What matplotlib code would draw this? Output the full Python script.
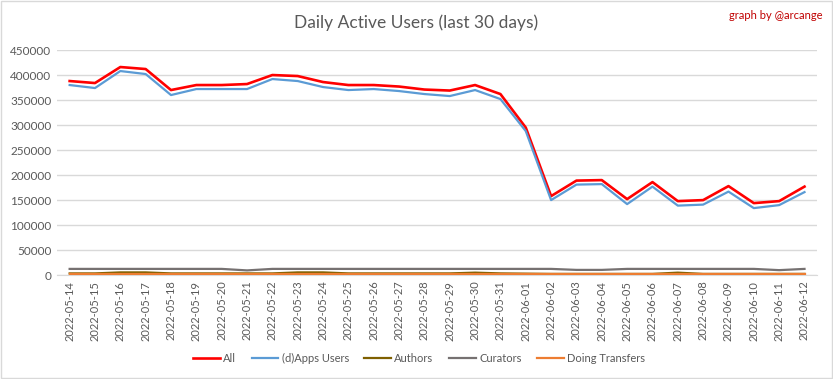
import matplotlib
matplotlib.use("Agg")
import matplotlib.pyplot as plt
from matplotlib.patches import Rectangle

dates = ["2022-05-14", "2022-05-15", "2022-05-16", "2022-05-17", "2022-05-18", "2022-05-19",
         "2022-05-20", "2022-05-21", "2022-05-22", "2022-05-23", "2022-05-24", "2022-05-25",
         "2022-05-26", "2022-05-27", "2022-05-28", "2022-05-29", "2022-05-30", "2022-05-31",
         "2022-06-01", "2022-06-02", "2022-06-03", "2022-06-04", "2022-06-05", "2022-06-06",
         "2022-06-07", "2022-06-08", "2022-06-09", "2022-06-10", "2022-06-11", "2022-06-12"]

all_users = [388000, 384000, 416000, 412000, 370000, 380000, 380000, 382000, 400000, 398000,
             386000, 380000, 380000, 377000, 371000, 369000, 380000, 362000, 295000, 158000,
             189000, 190000, 152000, 186000, 148000, 150000, 178000, 144000, 148000, 177000]
apps_users = [380000, 374000, 408000, 402000, 360000, 372000, 372000, 372000, 392000, 388000,
              376000, 370000, 372000, 368000, 362000, 358000, 370000, 352000, 288000, 150000,
              181000, 182000, 142000, 177000, 139000, 141000, 167000, 134000, 140000, 166000]
authors = [3500, 3500, 5500, 5500, 3500, 3500, 3500, 3500, 3500, 5500,
           5500, 3500, 3500, 3500, 3500, 3500, 5000, 3500, 3000, 2500,
           2500, 2500, 2500, 2500, 5000, 2500, 2500, 2500, 2500, 2500]
curators = [12500, 12500, 12500, 12500, 12500, 12500, 12500, 9500, 12500, 12500,
            12500, 12500, 12500, 12500, 12500, 12500, 12500, 12500, 12500, 12500,
            10500, 10500, 12500, 12500, 12500, 12500, 12500, 12500, 10000, 12500]
transfers = [1500] * 30

series_names = ["All", "(d)Apps Users", "Authors", "Curators", "Doing Transfers"]
y_ticks = [0, 50000, 100000, 150000, 200000, 250000, 300000, 350000, 400000, 450000]

FONT = ["Lato", "DejaVu Sans"]
TXT = "#595959"

fig = plt.figure(figsize=(8.33, 3.79), dpi=100)
fig.patches.append(Rectangle((0.0015, 0.003), 0.997, 0.994, transform=fig.transFigure,
                             fill=False, edgecolor="#D9D9D9", linewidth=1))
ax = fig.add_axes([0.0684, 0.274, 0.9126, 0.594])

x = list(range(len(dates)))
ax.plot(x, all_users, color="#FF0000", lw=1.9, label=series_names[0], zorder=3)
ax.plot(x, apps_users, color="#5B9BD5", lw=1.6, label=series_names[1], zorder=4)
ax.plot(x, authors, color="#7F6000", lw=1.6, label=series_names[2], zorder=5)
ax.plot(x, curators, color="#767171", lw=1.6, label=series_names[3], zorder=5)
ax.plot(x, transfers, color="#ED7D31", lw=1.6, label=series_names[4], zorder=6)

ax.set_xlim(-0.5, len(dates) - 0.5)
ax.set_ylim(0, 450000)
ax.set_yticks(y_ticks)
ax.set_yticklabels([str(v) for v in y_ticks], fontfamily=FONT, fontsize=8.5, color=TXT)
ax.set_xticks(x)
ax.set_xticklabels(dates, rotation=90, fontfamily=FONT, fontsize=8, color=TXT)
ax.grid(axis="y", color="#D9D9D9", lw=1)
ax.set_axisbelow(True)
for s in ["top", "right", "left"]:
    ax.spines[s].set_visible(False)
ax.spines["bottom"].set_color("#D9D9D9")
ax.tick_params(axis="both", length=0, pad=4)

fig.text(0.5, 0.94, "Daily Active Users (last 30 days)", ha="center", va="center",
         fontfamily=FONT, fontsize=12.5, color=TXT)
fig.text(0.987, 0.96, "graph by @arcange", ha="right", va="center",
         fontfamily=FONT, fontsize=8, color="#C00000")

leg = fig.legend(loc="center", bbox_to_anchor=(0.503, 0.055), ncol=5, frameon=False,
                 prop={"family": FONT, "size": 8}, handlelength=2.4, columnspacing=1.4,
                 handletextpad=0.3)
for t in leg.get_texts():
    t.set_color(TXT)

fig.savefig("out.png", dpi=100)
